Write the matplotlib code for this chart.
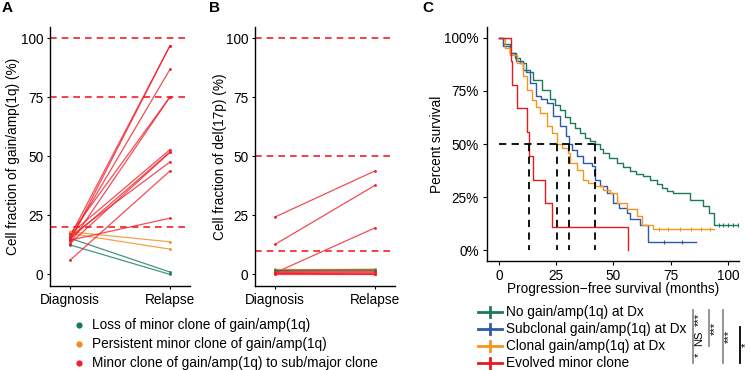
import numpy as np
import matplotlib
matplotlib.use("Agg")
import matplotlib.pyplot as plt

plt.rcParams['font.family'] = ['Liberation Sans', 'DejaVu Sans']

# ---------------- data ----------------
timepoints = ["Diagnosis", "Relapse"]
yticks_ab = [0, 25, 50, 75, 100]

# Panel A: gain/amp(1q) cell fraction
A_green_dx = [15.3, 12.5]
A_green_rel = [1.0, 0.0]
A_orange_dx = [18.0, 17.3]
A_orange_rel = [13.8, 10.7]
A_red_dx = [16.0, 14.0, 15.0, 17.0, 13.0, 17.0, 15.0, 13.0, 16.0, 6.0, 14.5]
A_red_rel = [96.8, 96.8, 86.8, 75.1, 75.1, 52.8, 51.8, 51.7, 47.6, 43.8, 23.8]
A_cutoffs = [100, 75, 20]

# Panel B: del(17p) cell fraction
B_green_dx = [1.7]
B_green_rel = [1.9]
B_orange_dx = [2.4, 1.9]
B_orange_rel = [2.4, 2.2]
B_red_dx = [24.3, 12.7, 0.7, 0.0, 0.3, 0.8, 1.2, 1.6, 2.0, 0.5]
B_red_rel = [43.8, 37.7, 19.7, 0.0, 0.2, 0.6, 1.0, 1.4, 1.8, 0.1]
B_cutoffs = [100, 50, 10]

legend_ab = ["Loss of minor clone of gain/amp(1q)",
             "Persistent minor clone of gain/amp(1q)",
             "Minor clone of gain/amp(1q) to sub/major clone"]

# Panel C: Kaplan-Meier curves (time in months, survival fraction)
km_labels = ["No gain/amp(1q) at Dx", "Subclonal gain/amp(1q) at Dx",
             "Clonal gain/amp(1q) at Dx", "Evolved minor clone"]
green_t = [0, 2, 4.8, 7, 9.2, 12, 15, 18.6, 22.3, 24.5, 26.6, 29, 31, 33, 35.4, 37.5,
           39.7, 41.9, 44, 45.6, 48, 51.4, 54, 57.2, 60, 63.1, 66, 68.9, 71, 73.3, 76,
           83.2, 89.3, 91.8, 93.9]
green_s = [1.0, 0.97, 0.93, 0.905, 0.88, 0.84, 0.80, 0.756, 0.71, 0.685, 0.66, 0.625,
           0.60, 0.575, 0.552, 0.53, 0.513, 0.50, 0.475, 0.46, 0.435, 0.41, 0.39, 0.372,
           0.36, 0.35, 0.33, 0.31, 0.295, 0.278, 0.271, 0.239, 0.208, 0.177, 0.119]
green_end = 104.9
green_cens = [96, 98, 100, 102, 104.5]

blue_t = [0, 2, 4.8, 7.5, 10.6, 13.5, 16.4, 18.5, 20.8, 23.7, 26.6, 29.5, 30.6, 32,
          33.9, 36.8, 40.5, 41.9, 44.1, 47, 49.9, 52.5, 55.7, 57.2, 61.6, 65.2]
blue_s = [1.0, 0.96, 0.928, 0.89, 0.85, 0.787, 0.725, 0.71, 0.693, 0.631, 0.584, 0.537,
          0.50, 0.47, 0.443, 0.412, 0.397, 0.333, 0.302, 0.271, 0.224, 0.20, 0.177,
          0.146, 0.118, 0.04]
blue_end = 86
blue_cens = [72, 80]

orange_t = [0, 2.5, 4.8, 7.7, 10.6, 12.1, 14.3, 16, 17.9, 20.8, 23, 25.2, 27.5, 30.3,
            31, 33.9, 36.8, 39, 41.9, 45.6, 48.5, 51.4, 55.7, 60.1, 62.3, 67.1]
orange_s = [1.0, 0.95, 0.92, 0.88, 0.82, 0.756, 0.709, 0.675, 0.646, 0.584, 0.552, 0.50,
            0.48, 0.459, 0.412, 0.38, 0.333, 0.315, 0.302, 0.286, 0.271, 0.224, 0.193,
            0.161, 0.118, 0.102]
orange_end = 94
orange_cens = [70, 74, 79, 84, 88, 92]

red_t = [0, 5.2, 5.9, 8.0, 12.4, 13.2, 15.0, 20.2, 23.1, 56.5]
red_s = [1.0, 0.889, 0.778, 0.667, 0.556, 0.444, 0.333, 0.222, 0.111, 0.0]
red_end = 56.5
red_cens = []

xticks_c = [0, 25, 50, 75, 100]
yticks_c = [0, 0.25, 0.5, 0.75, 1.0]
ytick_labels_c = ["0%", "25%", "50%", "75%", "100%"]

# significance comparisons: (row_i, row_j, label, column)
comparisons = [(0, 1, "***", 0), (1, 2, "NS", 0), (2, 3, "*", 0),
               (0, 2, "***", 1), (0, 3, "***", 2), (1, 3, "*", 3)]

# ---------------- style ----------------
GREEN_A = "#1a7a5e"
ORANGE_A = "#f28c1e"
RED_A = "#f0202a"
KM_COLORS = ["#1b7a57", "#2d5aa8", "#f7941d", "#e41a1c"]
FS = 9.8

fig = plt.figure(figsize=(7.5, 3.7), dpi=100)


def rect(l, t, r, b):
    return [l / 750, 1 - b / 370, (r - l) / 750, (b - t) / 370]


def style_axis(ax):
    for s in ["top", "right"]:
        ax.spines[s].set_visible(False)
    for s in ["left", "bottom"]:
        ax.spines[s].set_linewidth(1.0)
    ax.tick_params(axis="both", length=2.5, width=0.8, pad=2.5, labelsize=FS,
                   colors="black")


def pair_panel(ax, groups, cutoffs):
    x = np.arange(1, len(timepoints) + 1)
    for c in cutoffs:
        ax.axhline(c, color=RED_A, lw=1.2, dashes=(4, 3), zorder=1)
    for dx, rel, col in groups:
        for a, b in zip(dx, rel):
            ax.plot(x, [a, b], color=col, lw=0.9, alpha=0.8, zorder=2)
            ax.plot(x, [a, b], 'o', color=col, ms=2.0, mew=0, zorder=3)
    ax.set_xlim(0.8, 2.2)
    ax.set_ylim(-4.9, 104.7)
    ax.set_xticks(x)
    ax.set_xticklabels(timepoints)
    ax.set_yticks(yticks_ab)
    style_axis(ax)


axA = fig.add_axes(rect(50, 27, 190, 286))
pair_panel(axA, [(A_green_dx, A_green_rel, GREEN_A),
                 (A_orange_dx, A_orange_rel, ORANGE_A),
                 (A_red_dx, A_red_rel, RED_A)], A_cutoffs)

axB = fig.add_axes(rect(255, 27, 395, 286))
pair_panel(axB, [(B_red_dx, B_red_rel, RED_A),
                 (B_orange_dx, B_orange_rel, ORANGE_A),
                 (B_green_dx, B_green_rel, GREEN_A)], B_cutoffs)

# Panel C
axC = fig.add_axes(rect(487, 27, 739, 261))
curves = [(green_t, green_s, green_end, green_cens),
          (blue_t, blue_s, blue_end, blue_cens),
          (orange_t, orange_s, orange_end, orange_cens),
          (red_t, red_s, red_end, red_cens)]
medians = []
for (t, s, end, cens), col in zip(curves, KM_COLORS):
    tt = list(t) + [end]
    ss = list(s) + [s[-1]]
    axC.step(tt, ss, where="post", color=col, lw=1.0, zorder=3)
    if cens:
        idx = np.searchsorted(np.array(t), np.array(cens), side="right") - 1
        axC.plot(cens, np.array(s)[idx], '|', color=col, ms=3, mew=0.8, zorder=3)
    sa = np.array(s)
    medians.append(np.array(t)[np.argmax(sa <= 0.5)])

axC.plot([0, max(medians)], [0.5, 0.5], color="black", lw=1.3, dashes=(4, 3), zorder=4)
for m in medians:
    axC.plot([m, m], [0.5, 0], color="black", lw=1.3, dashes=(4, 3), zorder=4)

axC.set_xlim(-5.2, 104.8)
axC.set_ylim(-0.05, 1.05)
axC.set_xticks(xticks_c)
axC.set_yticks(yticks_c)
axC.set_yticklabels(ytick_labels_c)
style_axis(axC)
axC.tick_params(length=3, pad=3)

# ---------------- overlay (pixel coordinates) ----------------
ov = fig.add_axes([0, 0, 1, 1], zorder=10)
ov.set_xlim(0, 750)
ov.set_ylim(370, 0)
ov.axis("off")

for lab, x in zip(["A", "B", "C"], [7, 214, 428]):
    ov.text(x, 8, lab, fontsize=11, fontweight="bold", ha="center", va="center")

ov.text(13, 156.5, "Cell fraction of gain/amp(1q) (%)", rotation=90, fontsize=FS,
        ha="center", va="center")
ov.text(220, 156.5, "Cell fraction of del(17p) (%)", rotation=90, fontsize=FS,
        ha="center", va="center")
ov.text(437, 144, "Percent survival", rotation=90, fontsize=FS, ha="center", va="center")
ov.text(613, 289, "Progression\u2212free survival (months)", fontsize=FS,
        ha="center", va="center")

# legend for A/B
for lab, col, y in zip(legend_ab, [GREEN_A, ORANGE_A, RED_A], [325, 344, 363]):
    ov.plot([79], [y], 'o', color=col, ms=4.5, mew=0)
    ov.text(92, y, lab, fontsize=FS, ha="left", va="center")

# legend for C
rows_c = [312, 329, 346, 363]
for lab, col, y in zip(km_labels, KM_COLORS, rows_c):
    ov.plot([478, 502], [y, y], color=col, lw=2)
    ov.plot([490, 490], [y - 5, y + 5], color=col, lw=2)
    ov.text(506, y, lab, fontsize=FS, ha="left", va="center")

# significance brackets
col_x = [693, 709, 723, 740]
col_c = ["#8c8c8c", "#8c8c8c", "#8c8c8c", "black"]
for i, j, lab, c in comparisons:
    y0, y1 = rows_c[i] - 2, rows_c[j]
    if i > 0 and c == 0:
        y0 = rows_c[i] + 1
    ov.plot([col_x[c], col_x[c]], [y0, y1], color=col_c[c], lw=1.3)
    ov.text(col_x[c] + 6, (y0 + y1) / 2, lab, rotation=90, fontsize=8,
            ha="center", va="center")

fig.savefig("out.png", dpi=100)
